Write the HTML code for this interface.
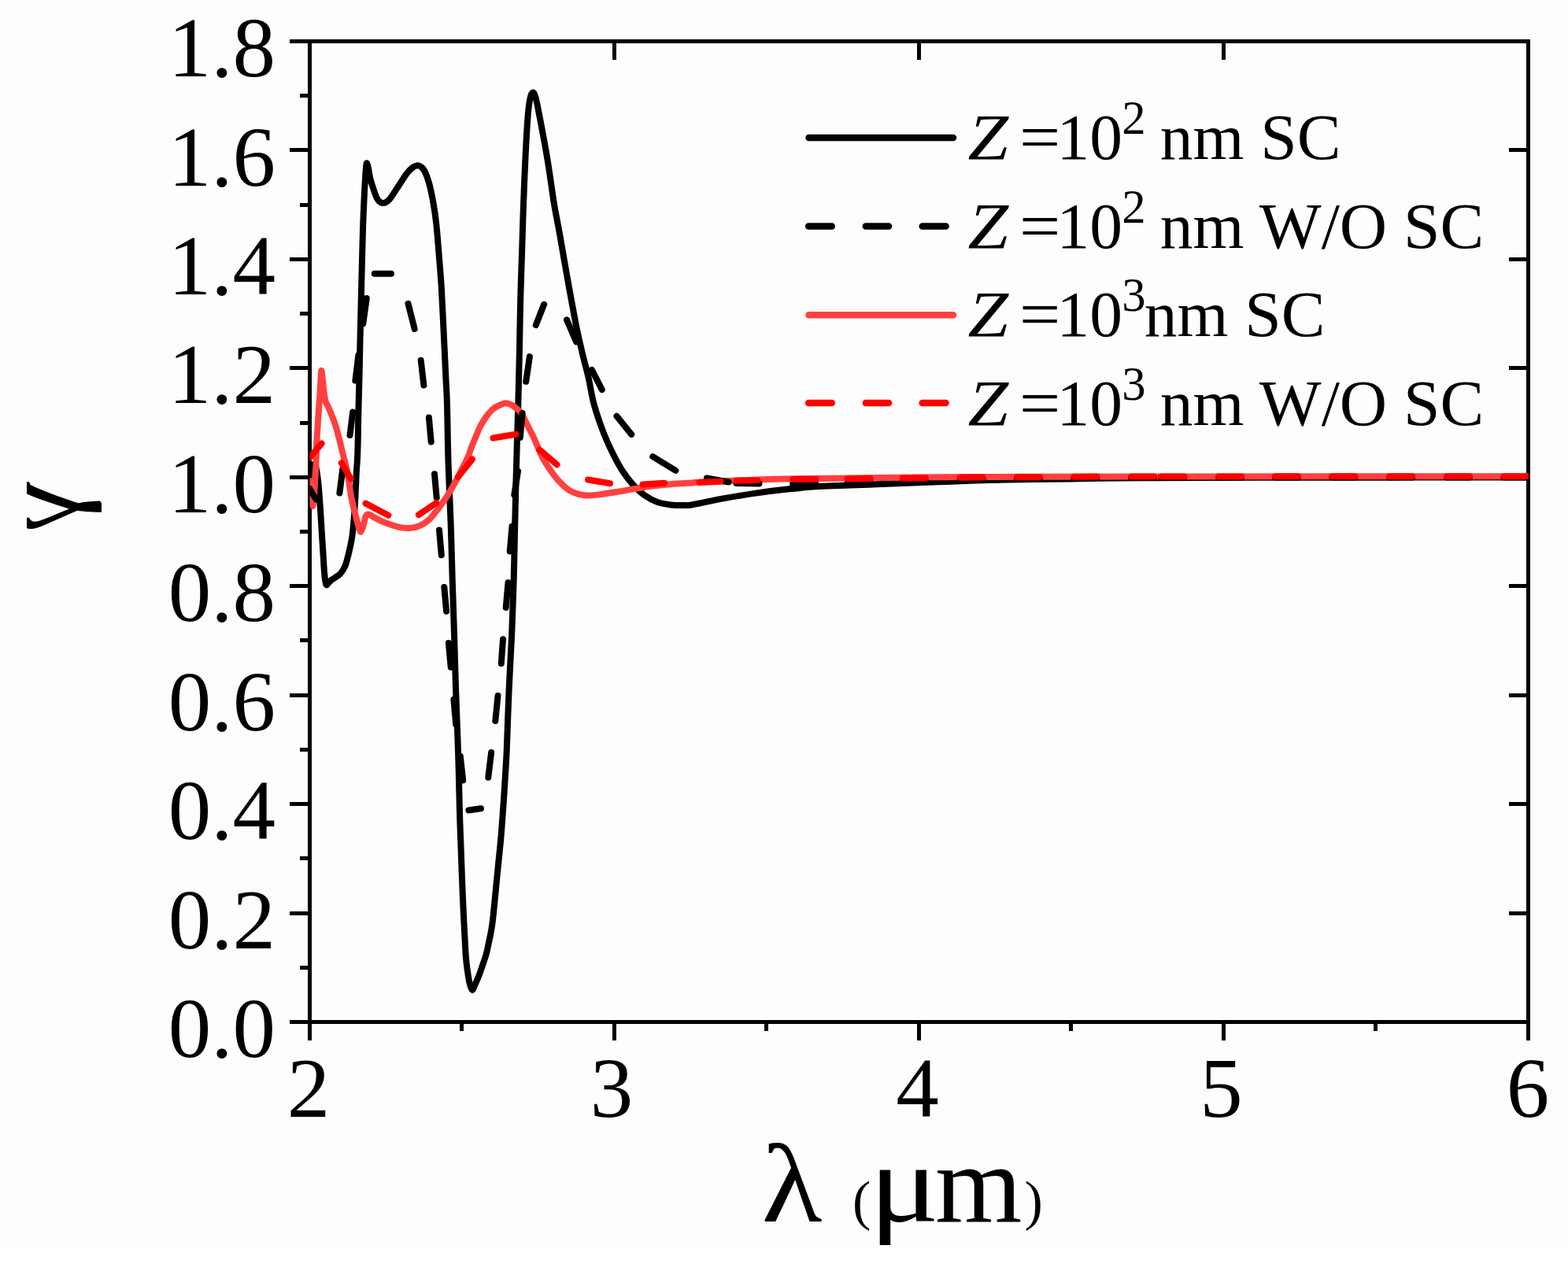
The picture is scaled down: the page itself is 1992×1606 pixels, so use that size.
<!DOCTYPE html>
<html><head><meta charset="utf-8"><title>gamma vs lambda</title>
<style>html,body{margin:0;padding:0;background:#fdfdfd;overflow:hidden}svg{display:block}</style>
</head><body>
<svg width="1992" height="1606" viewBox="0 0 1992 1606">
<defs><clipPath id="pc"><rect x="393.5" y="52.5" width="1548.0" height="1246.0"/></clipPath></defs>
<rect x="0" y="0" width="1992" height="1585" fill="#fdfdfd"/>
<rect x="0" y="1585" width="1992" height="21" fill="#ffffff"/>
<rect x="393.5" y="52.5" width="1548.0" height="1246.0" fill="none" stroke="#000" stroke-width="5"/>
<path d="M368.0,1298.5H393.5 M381.0,1229.5H393.5 M368.0,1160.5H393.5 M1941.5,1160.5H1917.0 M381.0,1090.5H393.5 M368.0,1021.5H393.5 M1941.5,1021.5H1917.0 M381.0,952.5H393.5 M368.0,883.5H393.5 M1941.5,883.5H1917.0 M381.0,813.5H393.5 M368.0,744.5H393.5 M1941.5,744.5H1917.0 M381.0,675.5H393.5 M368.0,606.5H393.5 M1941.5,606.5H1917.0 M381.0,537.5H393.5 M368.0,467.5H393.5 M1941.5,467.5H1917.0 M381.0,398.5H393.5 M368.0,329.5H393.5 M1941.5,329.5H1917.0 M381.0,260.5H393.5 M368.0,190.5H393.5 M1941.5,190.5H1917.0 M381.0,121.5H393.5 M368.0,52.5H393.5 M393.5,1298.5V1322.0 M586.5,1298.5V1310.0 M780.5,1298.5V1322.0 M780.5,52.5V76.0 M973.5,1298.5V1310.0 M1167.5,1298.5V1322.0 M1167.5,52.5V76.0 M1360.5,1298.5V1310.0 M1554.5,1298.5V1322.0 M1554.5,52.5V76.0 M1747.5,1298.5V1310.0 M1941.5,1298.5V1322.0" stroke="#000" stroke-width="5" fill="none"/>
<g clip-path="url(#pc)">
<path d="M393.4,608.0 C393.8,606.2 394.6,600.0 395.5,597.0 C396.4,594.0 397.6,590.8 398.5,590.0 C399.4,589.2 400.2,589.5 401.0,592.0 C401.8,594.5 402.6,600.1 403.3,604.8 C404.0,609.5 404.5,614.1 405.0,620.0 C405.5,625.9 406.0,633.3 406.5,640.0 C407.0,646.7 407.4,653.3 407.8,660.0 C408.2,666.7 408.6,673.3 409.0,680.0 C409.4,686.7 409.9,693.3 410.3,700.0 C410.7,706.7 411.1,714.2 411.5,720.0 C411.9,725.8 412.3,731.2 412.8,735.0 C413.3,738.8 413.8,742.0 414.5,743.0 C415.2,744.0 415.9,742.0 417.0,741.0 C418.1,740.0 419.3,738.3 421.0,737.0 C422.7,735.7 425.1,734.3 427.0,733.0 C428.9,731.7 430.4,731.3 432.3,729.0 C434.2,726.7 436.6,723.7 438.5,719.0 C440.4,714.3 442.0,707.2 443.5,701.0 C445.0,694.8 446.2,689.3 447.3,682.0 C448.4,674.7 449.1,665.7 449.8,657.0 C450.5,648.3 451.0,639.5 451.5,630.0 C452.0,620.5 452.4,607.8 452.8,600.0 C453.2,592.2 453.7,589.7 454.0,583.0 C454.3,576.3 454.5,568.8 454.7,560.0 C454.9,551.2 454.9,543.3 455.2,530.0 C455.5,516.7 456.1,494.8 456.5,480.0 C456.9,465.2 456.9,459.8 457.3,441.0 C457.7,422.2 458.5,391.8 459.1,367.0 C459.7,342.2 460.4,310.7 461.0,292.0 C461.6,273.3 462.0,265.3 462.5,255.0 C463.0,244.7 463.3,237.8 463.8,230.0 C464.3,222.2 464.9,210.7 465.6,208.0 C466.3,205.3 467.2,210.9 468.0,214.0 C468.8,217.1 469.0,221.6 470.3,226.7 C471.6,231.8 474.5,240.4 475.9,244.5 C477.3,248.6 477.6,249.4 478.6,251.3 C479.6,253.2 480.5,254.7 481.7,255.8 C482.9,256.9 484.5,257.8 485.9,258.0 C487.3,258.2 488.7,257.8 490.3,256.9 C491.9,256.0 492.9,255.7 495.5,252.4 C498.1,249.1 502.2,242.4 505.8,237.0 C509.4,231.6 514.0,224.2 517.0,220.2 C520.0,216.2 521.8,214.7 524.0,213.0 C526.2,211.3 528.6,210.5 530.4,210.3 C532.2,210.1 533.5,210.8 535.0,212.0 C536.5,213.2 537.7,214.0 539.4,217.4 C541.1,220.8 543.1,225.5 545.0,232.3 C546.9,239.2 549.1,249.8 550.6,258.5 C552.1,267.2 553.0,272.8 554.3,284.6 C555.5,296.4 557.0,315.7 558.1,329.4 C559.2,343.1 560.0,351.2 560.9,366.8 C561.8,382.4 562.8,404.0 563.7,422.9 C564.6,441.8 565.7,464.6 566.4,480.0 C567.1,495.4 567.5,496.8 568.0,515.0 C568.5,533.2 568.8,564.5 569.6,589.4 C570.4,614.3 571.7,639.3 572.6,664.2 C573.5,689.1 574.1,715.5 574.8,738.9 C575.5,762.3 576.3,781.3 577.0,804.7 C577.7,828.1 578.4,854.5 579.2,879.4 C580.0,904.3 581.2,929.3 582.0,954.2 C582.8,979.1 583.4,1009.6 583.9,1028.9 C584.4,1048.2 584.6,1051.4 585.3,1069.8 C586.0,1088.2 586.9,1116.2 587.9,1139.5 C588.9,1162.8 590.4,1193.5 591.4,1209.3 C592.4,1225.0 593.1,1227.4 594.0,1234.0 C594.9,1240.6 595.5,1245.0 596.5,1249.0 C597.5,1253.0 598.7,1257.4 599.8,1257.8 C600.9,1258.2 601.8,1254.7 603.3,1251.5 C604.8,1248.3 607.2,1242.8 608.9,1238.4 C610.6,1234.1 611.9,1229.8 613.4,1225.4 C614.9,1221.1 616.5,1216.7 617.7,1212.3 C618.9,1207.9 619.7,1203.6 620.6,1199.2 C621.5,1194.8 622.6,1190.4 623.4,1186.1 C624.2,1181.8 624.9,1177.4 625.5,1173.1 C626.1,1168.8 626.4,1165.6 627.0,1160.0 C627.6,1154.4 628.1,1148.7 629.0,1139.5 C629.9,1130.3 631.2,1116.3 632.4,1104.7 C633.5,1093.1 634.8,1081.6 635.9,1069.8 C637.0,1058.0 637.9,1045.6 638.7,1034.0 C639.6,1022.4 640.2,1013.3 641.0,1000.0 C641.8,986.7 642.8,974.2 643.7,954.0 C644.6,933.8 645.4,903.8 646.5,879.0 C647.6,854.2 649.2,829.0 650.2,805.0 C651.2,781.0 652.0,758.2 652.7,735.0 C653.4,711.8 653.7,689.8 654.2,666.0 C654.8,642.2 655.3,616.8 656.0,592.0 C656.7,567.2 657.5,542.0 658.2,517.0 C658.9,492.0 659.5,464.8 660.0,442.0 C660.5,419.2 660.7,401.3 661.2,380.0 C661.8,358.7 662.6,334.3 663.3,314.0 C663.9,293.7 664.4,276.7 665.1,258.0 C665.8,239.3 666.5,220.7 667.4,202.0 C668.3,183.3 669.7,158.8 670.7,146.0 C671.7,133.2 672.5,129.8 673.5,125.0 C674.5,120.2 675.8,117.7 677.0,117.5 C678.2,117.3 679.1,119.2 680.5,124.0 C681.9,128.8 682.6,133.0 685.1,146.0 C687.6,159.0 692.3,183.4 695.4,202.1 C698.5,220.8 701.7,245.1 703.8,258.1 C705.9,271.1 706.5,273.0 707.8,280.0 C709.1,287.0 710.0,291.7 711.5,300.0 C713.0,308.3 715.2,321.7 716.7,330.0 C718.2,338.3 719.0,343.2 720.2,349.9 C721.4,356.6 722.6,363.3 723.8,370.0 C725.0,376.7 726.3,383.2 727.5,389.9 C728.7,396.5 729.9,403.2 731.2,409.9 C732.5,416.5 733.9,423.2 735.4,429.8 C736.9,436.4 738.5,443.3 740.0,449.7 C741.5,456.1 743.3,462.3 744.7,468.0 C746.1,473.7 746.9,476.4 748.5,484.0 C750.1,491.6 751.7,503.1 754.6,513.6 C757.5,524.1 761.9,537.0 765.8,547.3 C769.7,557.6 774.0,566.9 778.1,575.3 C782.2,583.7 785.9,590.8 790.4,597.7 C794.9,604.6 800.3,611.6 805.0,616.8 C809.7,622.0 813.5,625.5 818.5,629.1 C823.5,632.7 829.7,636.1 835.3,638.1 C840.9,640.1 846.5,640.8 852.1,641.4 C857.7,642.0 864.2,642.0 868.9,642.0 C873.5,642.0 871.5,642.7 880.0,641.2 C888.5,639.7 906.8,635.5 920.2,633.1 C933.6,630.7 946.9,628.5 960.3,626.6 C973.7,624.7 987.1,623.0 1000.5,621.6 C1013.9,620.2 1027.3,618.9 1040.6,618.1 C1053.8,617.3 1066.8,617.1 1080.0,616.6 C1093.2,616.1 1106.7,615.5 1120.0,615.0 C1133.3,614.5 1146.7,614.0 1160.0,613.5 C1173.3,613.0 1185.0,612.5 1200.0,612.0 C1215.0,611.5 1223.3,610.8 1250.0,610.2 C1276.7,609.6 1326.7,608.9 1360.0,608.4 C1393.3,607.9 1410.0,607.6 1450.0,607.3 C1490.0,607.0 1517.5,606.9 1600.0,606.8 C1682.5,606.7 1887.5,606.5 1945.0,606.5" fill="none" stroke="#000" stroke-width="8" stroke-linejoin="round" stroke-linecap="round"/>
<path d="M393.4,611.0 C393.8,613.8 394.9,622.7 395.6,628.0 C396.3,633.3 397.1,643.5 397.7,643.0 C398.3,642.5 398.8,631.3 399.3,625.0 C399.8,618.7 400.1,610.8 400.5,605.0 C400.9,599.2 401.2,597.3 401.5,590.0 C401.8,582.7 402.0,569.3 402.4,561.0 C402.8,552.7 403.3,546.8 403.7,540.0 C404.1,533.2 404.6,526.3 405.0,520.0 C405.4,513.7 405.9,507.8 406.3,502.0 C406.7,496.2 407.0,490.2 407.3,485.0 C407.6,479.8 407.9,471.8 408.3,471.0 C408.7,470.2 409.1,476.0 409.6,480.0 C410.1,484.0 410.7,490.8 411.2,495.0 C411.7,499.2 412.0,502.3 412.5,505.0 C413.0,507.7 413.4,509.2 414.0,511.0 C414.6,512.8 415.2,513.4 416.2,515.5 C417.2,517.6 418.6,520.6 419.9,523.7 C421.2,526.8 422.8,530.9 424.0,534.2 C425.2,537.5 426.1,540.0 427.2,543.6 C428.3,547.2 429.4,551.9 430.5,556.0 C431.6,560.1 432.6,564.3 433.6,568.5 C434.6,572.7 435.6,576.8 436.7,581.0 C437.8,585.2 438.8,588.4 440.0,594.0 C441.2,599.6 442.8,609.3 443.7,614.9 C444.6,620.5 444.8,623.2 445.5,627.4 C446.2,631.5 447.1,635.6 448.0,639.8 C448.9,643.9 450.1,648.1 451.2,652.3 C452.2,656.4 453.4,661.5 454.3,664.7 C455.2,667.9 455.8,669.7 456.5,671.5 C457.2,673.3 457.6,675.8 458.3,675.7 C459.0,675.6 459.8,672.8 460.5,671.0 C461.2,669.2 461.8,667.0 462.4,664.7 C463.0,662.4 463.5,658.9 464.2,657.0 C464.9,655.1 465.5,653.9 466.7,653.5 C467.9,653.1 469.7,654.2 471.1,654.8 C472.5,655.4 472.8,656.0 475.0,657.2 C477.2,658.4 480.7,660.5 484.6,662.2 C488.5,663.9 493.9,665.9 498.2,667.3 C502.5,668.7 506.6,669.8 510.2,670.4 C513.8,671.0 516.3,671.3 519.9,671.0 C523.5,670.7 527.9,670.2 531.9,668.6 C535.9,667.0 540.2,664.6 544.0,661.3 C547.8,658.0 551.8,652.5 554.9,648.7 C558.0,644.9 560.0,642.1 562.5,638.5 C565.0,634.9 567.0,632.1 569.9,627.3 C572.8,622.5 577.0,615.3 579.9,609.9 C582.8,604.5 584.8,599.9 587.3,594.9 C589.8,589.9 593.0,584.1 594.8,580.0 C596.6,575.9 597.0,573.4 598.3,570.0 C599.6,566.6 600.6,564.4 602.5,559.8 C604.4,555.2 607.4,547.3 609.9,542.3 C612.4,537.3 614.9,533.5 617.4,529.9 C619.9,526.3 622.4,523.2 624.9,520.9 C627.4,518.6 629.4,517.3 632.3,515.9 C635.2,514.5 639.4,512.5 642.3,512.2 C645.2,512.0 647.3,513.1 649.8,514.4 C652.3,515.7 655.1,518.1 657.2,519.9 C659.3,521.6 660.5,522.4 662.2,524.9 C663.9,527.4 665.7,531.5 667.5,535.0 C669.3,538.5 671.1,542.3 673.0,546.0 C674.9,549.7 676.1,551.8 678.7,557.4 C681.3,563.0 685.3,573.6 688.4,579.8 C691.5,586.0 694.0,589.7 697.4,594.7 C700.8,599.7 704.2,605.0 708.6,609.7 C713.0,614.4 717.9,619.8 723.5,623.1 C729.1,626.4 735.7,628.4 742.2,629.3 C748.7,630.1 755.3,629.0 762.4,628.2 C769.5,627.5 777.3,626.0 784.8,624.8 C792.3,623.6 799.8,622.1 807.3,620.9 C814.8,619.7 822.2,618.3 829.7,617.4 C837.2,616.5 843.7,615.9 852.1,615.2 C860.5,614.5 872.0,613.9 880.0,613.4 C888.0,612.9 889.3,612.5 900.0,612.0 C910.7,611.5 928.3,610.8 944.4,610.2 C960.5,609.6 970.8,609.1 996.7,608.6 C1022.6,608.1 1066.1,607.6 1100.0,607.2 C1133.9,606.8 1166.7,606.5 1200.0,606.3 C1233.3,606.1 1250.0,605.9 1300.0,605.8 C1350.0,605.6 1392.5,605.5 1500.0,605.4 C1607.5,605.3 1870.8,605.2 1945.0,605.2" fill="none" stroke="#FF4040" stroke-width="8" stroke-linejoin="round" stroke-linecap="round"/>
<path d="M393.4,621.0 L401.5,634.5 M431.4,626.5 L435.3,596.0 M444.5,553.0 L448.2,523.5 M451.4,483.6 L455.4,450.9 M461.3,411.2 L465.8,379.0 M475.8,347.8 L496.9,347.8 M518.5,385.8 L526.7,417.9 M534.7,457.7 L538.4,489.5 M544.9,530.6 L547.7,561.4 M552.0,602.2 L554.7,632.4 M558.0,673.5 L560.8,705.3 M564.3,745.9 L567.1,776.7 M569.9,816.9 L572.7,847.7 M576.4,888.8 L579.2,920.5 M584.8,960.7 L588.2,991.5 M595.4,1029.5 L610.9,1027.3 M620.3,987.8 L624.1,956.0 M629.3,915.9 L632.5,884.1 M636.8,843.0 L639.0,812.2 M642.7,772.0 L645.5,740.3 M647.7,700.6 L650.5,668.8 M653.3,628.7 L658.0,598.8 M660.8,555.8 L663.6,525.0 M668.2,484.8 L672.9,453.1 M680.8,413.0 L691.1,386.8 M720.0,406.4 L732.2,434.4 M751.8,469.9 L764.8,495.1 M783.5,528.7 L802.2,552.1 M829.3,580.1 L858.3,597.9 M898.0,607.5 L925.5,612.5 M935.5,614.0 L964.5,614.5 M1007.2,614.8 L1036.2,614.7 M1076.7,613.4 L1105.7,612.4 M1146.8,611.3 L1175.8,610.5 M1219.6,609.4 L1248.6,608.9 M1292.0,608.1 L1321.0,607.8 M1364.3,607.4 L1393.3,607.1 M1437.2,606.9 L1466.2,606.7 M1475.3,606.7 L1504.3,606.6 M1548.2,606.6 L1577.2,606.6 M1620.0,606.6 L1649.0,606.6 M1692.3,606.6 L1721.3,606.6 M1765.2,606.5 L1794.2,606.5 M1838.1,606.5 L1867.1,606.5 M1910.5,606.5 L1939.5,606.5" fill="none" stroke="#000" stroke-width="8" stroke-linecap="round" stroke-linejoin="round"/>
<path d="M393.4,581.5 L408.6,563.6 M433.8,588.2 L445.7,608.3 M464.5,639.6 L493.4,654.7 M531.9,654.1 L554.2,639.0 M581.9,605.9 L600.0,583.6 M626.5,556.5 L655.4,551.7 M685.5,571.5 L707.5,590.3 M747.0,609.5 L775.0,614.2 M816.5,615.5 L844.0,613.8 M888.5,612.9 L915.5,611.7 M935.5,610.8 L962.5,610.3 M1007.2,608.9 L1036.2,608.7 M1076.7,608.4 L1105.7,608.1 M1146.8,607.6 L1175.8,607.3 M1219.6,606.8 L1248.6,606.6 M1292.0,606.2 L1321.0,606.0 M1364.3,605.8 L1393.3,605.6 M1437.2,605.5 L1466.2,605.5 M1475.3,605.4 L1504.3,605.4 M1548.2,605.4 L1577.2,605.4 M1620.0,605.3 L1649.0,605.3 M1692.3,605.3 L1721.3,605.3 M1765.2,605.3 L1794.2,605.3 M1838.1,605.2 L1867.1,605.2 M1910.5,605.2 L1939.5,605.2" fill="none" stroke="#FF0000" stroke-width="8" stroke-linecap="round" stroke-linejoin="round"/>
</g>
<g style="font-family:'Liberation Serif',serif" font-size="109" fill="#000"><text x="350" y="1343.1" text-anchor="end">0.0</text><text x="350" y="1204.7" text-anchor="end">0.2</text><text x="350" y="1066.2" text-anchor="end">0.4</text><text x="350" y="927.8" text-anchor="end">0.6</text><text x="350" y="789.3" text-anchor="end">0.8</text><text x="350" y="650.9" text-anchor="end">1.0</text><text x="350" y="512.4" text-anchor="end">1.2</text><text x="350" y="374.0" text-anchor="end">1.4</text><text x="350" y="235.5" text-anchor="end">1.6</text><text x="350" y="97.1" text-anchor="end">1.8</text><text x="392.0" y="1419" text-anchor="middle">2</text><text x="777.0" y="1419" text-anchor="middle">3</text><text x="1165.5" y="1419" text-anchor="middle">4</text><text x="1551.5" y="1419" text-anchor="middle">5</text><text x="1941.0" y="1419" text-anchor="middle">6</text></g>
<g style="font-family:'Liberation Serif',serif" fill="#000">
<text transform="translate(967.5,1552) scale(1.12,1)" font-size="142">λ</text>
<text x="1083" y="1548.5" font-size="70">(</text>
<text transform="translate(1104.3,1552) scale(1.17,1)" font-size="142">μ</text>
<text x="1188" y="1552" font-size="142">m</text>
<text x="1301.5" y="1548.5" font-size="70">)</text>
<text transform="translate(99.2,612.5) rotate(-90) scale(-1,1)" font-size="142">γ</text>
</g>
<g style="font-family:'Liberation Serif',serif" font-size="83.5" fill="#000"><path d="M1027.5,175.0H1211.0" stroke="#000" stroke-width="8.5" stroke-linecap="round" fill="none"/><text transform="translate(1229.5,202.2) scale(1.11,1)" font-style="italic">Z</text><text transform="translate(1295,202.2) scale(1.11,1)">=</text><text x="1342.5" y="202.2">10</text><text x="1425.2" y="170.2" font-size="60.7">2</text><text x="1452.9" y="202.2" xml:space="preserve"> nm SC</text><path d="M1027.1,287.5H1056.8 M1099.8,287.5H1129.1 M1171.7,287.5H1201.6" stroke="#000" stroke-width="8.5" stroke-linecap="round" fill="none"/><text transform="translate(1229.5,314.5) scale(1.11,1)" font-style="italic">Z</text><text transform="translate(1295,314.5) scale(1.11,1)">=</text><text x="1342.5" y="314.5">10</text><text x="1425.2" y="282.5" font-size="60.7">2</text><text x="1452.9" y="314.5" xml:space="preserve"> nm W/O SC</text><path d="M1027.5,400.3H1211.0" stroke="#FF4040" stroke-width="8.5" stroke-linecap="round" fill="none"/><text transform="translate(1229.5,426.8) scale(1.11,1)" font-style="italic">Z</text><text transform="translate(1295,426.8) scale(1.11,1)">=</text><text x="1342.5" y="426.8">10</text><text x="1425.2" y="394.8" font-size="60.7">3</text><text x="1453.8" y="426.8" xml:space="preserve">nm SC</text><path d="M1027.1,512.0H1056.8 M1099.8,512.0H1129.1 M1171.7,512.0H1201.6" stroke="#FF0000" stroke-width="8.5" stroke-linecap="round" fill="none"/><text transform="translate(1229.5,540.2) scale(1.11,1)" font-style="italic">Z</text><text transform="translate(1295,540.2) scale(1.11,1)">=</text><text x="1342.5" y="540.2">10</text><text x="1425.2" y="508.2" font-size="60.7">3</text><text x="1452.9" y="540.2" xml:space="preserve"> nm W/O SC</text></g>
</svg>
</body></html>
